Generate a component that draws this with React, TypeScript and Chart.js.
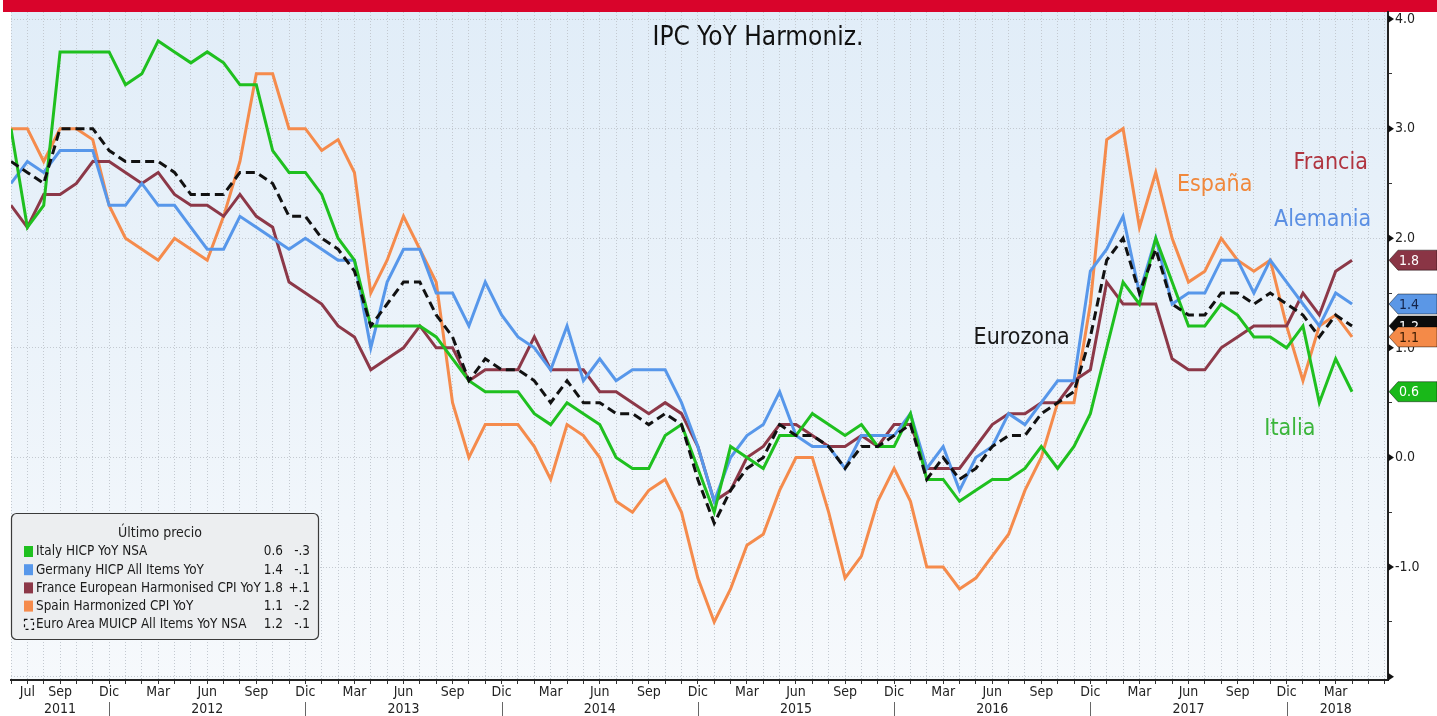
import React, { useEffect, useRef } from "react";
import { Chart, registerables } from "chart.js";

Chart.register(...registerables);

const FONT = '"DejaVu Sans Condensed", "DejaVu Sans", sans-serif';

// ---- Axis / category definitions ----
const MONTHS_ES = ["Ene", "Feb", "Mar", "Abr", "May", "Jun", "Jul", "Ago", "Sep", "Oct", "Nov", "Dic"];
const FIRST_YEAR = 2011;
const FIRST_MONTH = 5; // June 2011 = first observation
const LABELED_MONTHS = ["Mar", "Jun", "Sep", "Dic"];
const EXTRA_TICK_LABELS = ["Jul 2011"];
const YEAR_LABEL_MONTH: Record<number, string> = { 2011: "Sep", 2018: "Mar" };
const DEFAULT_YEAR_LABEL_MONTH = "Jun";
const YEAR_SEPARATOR_MONTH = "Dic";
const Y_TICKS = [-2, -1.5, -1, -0.5, 0, 0.5, 1, 1.5, 2, 2.5, 3, 3.5, 4];
const Y_LABELED = [4, 3, 2, 1, 0, -1];

// ---- Series values (Jun 2011 .. Apr 2018, monthly) ----
const italy = [
  3.0, 2.1, 2.3, 3.7, 3.7, 3.7, 3.7, 3.4, 3.5, 3.8, 3.7, 3.6, 3.7, 3.6, 3.4, 3.4, 2.8, 2.6, 2.6, 2.4, 2.0, 1.8,
  1.2, 1.2, 1.2, 1.2, 1.1, 0.9, 0.7,
  0.6, 0.6, 0.6, 0.4, 0.3, 0.5, 0.4, 0.3, 0.0, -0.1, -0.1, 0.2, 0.3,
  -0.1, -0.5, 0.1, 0.0, -0.1, 0.2, 0.2, 0.4, 0.3, 0.2, 0.3, 0.1, 0.1, 0.4,
  -0.2, -0.2, -0.4, -0.3, -0.2, -0.2, -0.1, 0.1, -0.1, 0.1, 0.4,
  1.0, 1.6, 1.4, 2.0, 1.6, 1.2, 1.2, 1.4, 1.3, 1.1, 1.1, 1.0, 1.2, 0.5, 0.9, 0.6,
];
const germany = [
  2.5, 2.7, 2.6, 2.8, 2.8, 2.8, 2.3, 2.3, 2.5, 2.3, 2.3, 2.1, 1.9, 1.9, 2.2, 2.1, 2.0, 1.9, 2.0, 1.9, 1.8, 1.8,
  1.0, 1.6, 1.9, 1.9, 1.5, 1.5, 1.2,
  1.6, 1.3, 1.1, 1.0, 0.8, 1.2, 0.7, 0.9, 0.7, 0.8, 0.8, 0.8, 0.5,
  0.1, -0.4, 0.0, 0.2, 0.3, 0.6, 0.2, 0.1, 0.1, -0.1, 0.2, 0.2, 0.2, 0.4,
  -0.1, 0.1, -0.3, 0.0, 0.1, 0.4, 0.3, 0.5, 0.7, 0.7, 1.7,
  1.9, 2.2, 1.5, 2.0, 1.4, 1.5, 1.5, 1.8, 1.8, 1.5, 1.8, 1.6, 1.4, 1.2, 1.5, 1.4,
];
const france = [
  2.3, 2.1, 2.4, 2.4, 2.5, 2.7, 2.7, 2.6, 2.5, 2.6, 2.4, 2.3, 2.3, 2.2, 2.4, 2.2, 2.1, 1.6, 1.5, 1.4, 1.2, 1.1,
  0.8, 0.9, 1.0, 1.2, 1.0, 1.0, 0.7,
  0.8, 0.8, 0.8, 1.1, 0.8, 0.8, 0.8, 0.6, 0.6, 0.5, 0.4, 0.5, 0.4,
  0.1, -0.4, -0.3, 0.0, 0.1, 0.3, 0.3, 0.2, 0.1, 0.1, 0.2, 0.1, 0.3, 0.3,
  -0.1, -0.1, -0.1, 0.1, 0.3, 0.4, 0.4, 0.5, 0.5, 0.7, 0.8,
  1.6, 1.4, 1.4, 1.4, 0.9, 0.8, 0.8, 1.0, 1.1, 1.2, 1.2, 1.2, 1.5, 1.3, 1.7, 1.8,
];
const spain = [
  3.0, 3.0, 2.7, 3.0, 3.0, 2.9, 2.3, 2.0, 1.9, 1.8, 2.0, 1.9, 1.8, 2.2, 2.7, 3.5, 3.5, 3.0, 3.0, 2.8, 2.9, 2.6,
  1.5, 1.8, 2.2, 1.9, 1.6, 0.5, 0.0,
  0.3, 0.3, 0.3, 0.1, -0.2, 0.3, 0.2, 0.0, -0.4, -0.5, -0.3, -0.2, -0.5,
  -1.1, -1.5, -1.2, -0.8, -0.7, -0.3, 0.0, 0.0, -0.5, -1.1, -0.9, -0.4, -0.1, -0.4,
  -1.0, -1.0, -1.2, -1.1, -0.9, -0.7, -0.3, 0.0, 0.5, 0.5, 1.4,
  2.9, 3.0, 2.1, 2.6, 2.0, 1.6, 1.7, 2.0, 1.8, 1.7, 1.8, 1.2, 0.7, 1.2, 1.3, 1.1,
];
const euro = [
  2.7, 2.6, 2.5, 3.0, 3.0, 3.0, 2.8, 2.7, 2.7, 2.7, 2.6, 2.4, 2.4, 2.4, 2.6, 2.6, 2.5, 2.2, 2.2, 2.0, 1.9, 1.7,
  1.2, 1.4, 1.6, 1.6, 1.3, 1.1, 0.7,
  0.9, 0.8, 0.8, 0.7, 0.5, 0.7, 0.5, 0.5, 0.4, 0.4, 0.3, 0.4, 0.3,
  -0.2, -0.6, -0.3, -0.1, 0.0, 0.3, 0.2, 0.2, 0.1, -0.1, 0.1, 0.1, 0.2, 0.3,
  -0.2, 0.0, -0.2, -0.1, 0.1, 0.2, 0.2, 0.4, 0.5, 0.6, 1.1,
  1.8, 2.0, 1.5, 1.9, 1.4, 1.3, 1.3, 1.5, 1.5, 1.4, 1.5, 1.4, 1.3, 1.1, 1.3, 1.2,
];

// ---- Series styling ----
const SERIES = [
  { key: "euro", legend: "Euro Area MUICP All Items YoY NSA", data: euro, color: "#111111", dash: [9, 5], tagBg: "#0c0c0c", tagFg: "#ffffff" },
  { key: "italy", legend: "Italy HICP YoY NSA", data: italy, color: "#1fc01f", dash: [], tagBg: "#19b819", tagFg: "#ffffff" },
  { key: "germany", legend: "Germany HICP All Items YoY", data: germany, color: "#5797ea", dash: [], tagBg: "#5b97e6", tagFg: "#14244a" },
  { key: "france", legend: "France European Harmonised CPI YoY", data: france, color: "#8c3848", dash: [], tagBg: "#8a3545", tagFg: "#ffffff" },
  { key: "spain", legend: "Spain Harmonized CPI YoY", data: spain, color: "#f58b4c", dash: [], tagBg: "#f48a48", tagFg: "#3a1a00" },
];
const LEGEND_ORDER = ["italy", "germany", "france", "spain", "euro"];
const TAG_ORDER = ["italy", "germany", "france", "euro", "spain"];
const LEGEND_TITLE = "Último precio";
const CHART_TITLE = "IPC YoY Harmoniz.";

// In-chart series names, anchored in data coordinates
const NAME_LABELS = ["Francia", "España", "Alemania", "Eurozona", "Italia"];
const NAME_X = [80.7, 73.6, 80.2, 61.8, 78.2];
const NAME_Y = [2.69, 2.49, 2.17, 1.09, 0.26];
const NAME_COLORS = ["#b0343f", "#f0883c", "#5b8fe3", "#1a1a1a", "#3bb53b"];

const periods = italy.map((_, i) => {
  const t = FIRST_MONTH + i;
  return { m: MONTHS_ES[t % 12], y: FIRST_YEAR + Math.floor(t / 12) };
});

function xTickLabel(value: number): string | string[] {
  const i = Math.round(value);
  if (i !== value || i < 1 || i >= periods.length) return "";
  const p = periods[i];
  const show = LABELED_MONTHS.includes(p.m) || EXTRA_TICK_LABELS.includes(`${p.m} ${p.y}`);
  if (!show) return "";
  const yearMonth = YEAR_LABEL_MONTH[p.y] ?? DEFAULT_YEAR_LABEL_MONTH;
  if (p.m === yearMonth) return [p.m, String(p.y)];
  return p.m;
}

function fmtChange(d: number): string {
  const r = Math.round(d * 10) / 10;
  const s = Math.abs(r).toFixed(1).replace(/^0/, "");
  return (r > 0 ? "+" : "-") + s;
}

const decorPlugin = {
  id: "decor",
  beforeDraw(chart: any) {
    const { ctx, chartArea: ca, width, height } = chart;
    ctx.save();
    ctx.fillStyle = "#ffffff";
    ctx.fillRect(0, 0, width, height);
    const g = ctx.createLinearGradient(0, ca.top, 0, ca.bottom);
    g.addColorStop(0, "#e1edf8");
    g.addColorStop(1, "#f6f9fc");
    ctx.fillStyle = g;
    ctx.fillRect(ca.left, ca.top, ca.right - ca.left, ca.bottom - ca.top);
    ctx.fillStyle = "#d9042b";
    ctx.fillRect(3, 0, width - 3, ca.top);
    ctx.restore();
  },
  afterDraw(chart: any) {
    const { ctx, chartArea: ca, width } = chart;
    const xs = chart.scales.x;
    const ys = chart.scales.y;
    ctx.save();

    // axis arrow markers at integer ticks
    ctx.fillStyle = "#111";
    for (const v of Y_TICKS) {
      if (!Number.isInteger(v)) continue;
      const y = ys.getPixelForValue(v);
      ctx.beginPath();
      ctx.moveTo(ca.right, y - 4);
      ctx.lineTo(ca.right + 6, y);
      ctx.lineTo(ca.right, y + 4);
      ctx.closePath();
      ctx.fill();
    }

    // year separators
    ctx.strokeStyle = "#666";
    ctx.lineWidth = 1;
    periods.forEach((p, i) => {
      if (p.m !== YEAR_SEPARATOR_MONTH) return;
      const x = Math.round(xs.getPixelForValue(i)) + 0.5;
      ctx.beginPath();
      ctx.moveTo(x, ca.bottom + 22);
      ctx.lineTo(x, ca.bottom + 36);
      ctx.stroke();
    });

    // title
    ctx.fillStyle = "#111";
    ctx.font = `26px ${FONT}`;
    ctx.textAlign = "center";
    ctx.textBaseline = "middle";
    ctx.fillText(CHART_TITLE, 758, 38);

    // series names
    ctx.font = `23px ${FONT}`;
    NAME_LABELS.forEach((t, k) => {
      ctx.fillStyle = NAME_COLORS[k];
      ctx.fillText(t, xs.getPixelForValue(NAME_X[k]), ys.getPixelForValue(NAME_Y[k]));
    });

    // legend box
    const bx = 11, by = 513, bw = 307, bh = 126;
    ctx.beginPath();
    ctx.roundRect(bx + 0.5, by + 0.5, bw, bh, 5);
    ctx.fillStyle = "#eceef0";
    ctx.fill();
    ctx.strokeStyle = "#3a3a3a";
    ctx.lineWidth = 1.2;
    ctx.stroke();
    ctx.fillStyle = "#222";
    ctx.font = `14px ${FONT}`;
    ctx.textAlign = "center";
    ctx.fillText(LEGEND_TITLE, 160, 533);
    ctx.font = `13.4px ${FONT}`;
    LEGEND_ORDER.forEach((key, r) => {
      const s = SERIES.find((q) => q.key === key)!;
      const y = 552 + r * 18.2;
      if (s.dash.length) {
        ctx.save();
        ctx.strokeStyle = "#111";
        ctx.lineWidth = 1.2;
        ctx.setLineDash([3, 3]);
        ctx.strokeRect(24.5, y - 5.5, 9, 10);
        ctx.restore();
      } else {
        ctx.fillStyle = s.color;
        ctx.fillRect(24, y - 6, 9, 11);
      }
      ctx.fillStyle = "#1a1a1a";
      ctx.textAlign = "left";
      ctx.fillText(s.legend, 36, y);
      const last = s.data[s.data.length - 1];
      const prev = s.data[s.data.length - 2];
      ctx.textAlign = "right";
      ctx.fillText(last.toFixed(1), 283, y);
      ctx.fillText(fmtChange(last - prev), 310, y);
    });

    // value tags on the right axis
    ctx.font = `14px ${FONT}`;
    ctx.textBaseline = "middle";
    TAG_ORDER.forEach((key) => {
      const s = SERIES.find((q) => q.key === key)!;
      const v = s.data[s.data.length - 1];
      const y = ys.getPixelForValue(v);
      const x0 = ca.right + 1;
      ctx.beginPath();
      ctx.moveTo(x0, y);
      ctx.lineTo(x0 + 9, y - 10);
      ctx.lineTo(width, y - 10);
      ctx.lineTo(width, y + 10);
      ctx.lineTo(x0 + 9, y + 10);
      ctx.closePath();
      ctx.fillStyle = s.tagBg;
      ctx.fill();
      ctx.strokeStyle = "rgba(0,0,0,0.45)";
      ctx.lineWidth = 1;
      ctx.stroke();
      ctx.fillStyle = s.tagFg;
      ctx.textAlign = "left";
      ctx.fillText(v.toFixed(1), x0 + 10, y + 1);
    });

    ctx.restore();
  },
};

export default function App() {
  const ref = useRef<HTMLCanvasElement>(null);
  useEffect(() => {
    const canvas = ref.current!;
    const chart = new Chart(canvas, {
      type: "line",
      data: {
        datasets: SERIES.map((s) => ({
          label: s.legend,
          data: s.data.map((v, i) => ({ x: i, y: v })),
          borderColor: s.color,
          backgroundColor: s.color,
          borderWidth: 3,
          borderDash: s.dash,
          pointRadius: 0,
          tension: 0,
          fill: false,
          borderJoinStyle: "miter",
        })),
      },
      options: {
        animation: false,
        responsive: false,
        maintainAspectRatio: false,
        layout: { padding: { top: 12, left: 11, right: 0, bottom: 0 } },
        plugins: { legend: { display: false }, tooltip: { enabled: false }, title: { display: false } },
        scales: {
          x: {
            type: "linear",
            min: 0,
            max: 84.2,
            afterBuildTicks: (s: any) => {
              s.ticks = Array.from({ length: 85 }, (_, i) => ({ value: i }));
            },
            afterFit: (s: any) => {
              s.height = 36;
            },
            grid: {
              color: "#c3c9d0",
              lineWidth: 1,
              drawTicks: true,
              tickLength: 4,
              tickColor: "#333",
              tickWidth: 1,
            },
            border: { display: true, color: "#222", width: 2, dash: [1, 2] },
            ticks: {
              autoSkip: false,
              maxRotation: 0,
              minRotation: 0,
              padding: 0,
              color: "#222",
              font: { family: FONT, size: 14, lineHeight: 1.21 },
              callback: (v: any) => xTickLabel(Number(v)),
            },
          },
          y: {
            type: "linear",
            position: "right",
            min: -2.03,
            max: 4.064,
            afterBuildTicks: (s: any) => {
              s.ticks = Y_TICKS.map((v) => ({ value: v }));
            },
            afterFit: (s: any) => {
              s.width = 49;
            },
            grid: {
              color: (c: any) => (c.tick && Number.isInteger(c.tick.value) ? "#c3c9d0" : "rgba(0,0,0,0)"),
              lineWidth: 1,
              drawTicks: true,
              tickLength: 4,
              tickColor: "#333",
              tickWidth: 1,
            },
            border: { display: true, color: "#222", width: 2, dash: [1, 2] },
            ticks: {
              padding: 3,
              color: "#222",
              font: { family: FONT, size: 14 },
              callback: (v: any) => (Y_LABELED.includes(Number(v)) ? Number(v).toFixed(1) : ""),
            },
          },
        },
      },
      plugins: [decorPlugin],
    } as any);
    return () => chart.destroy();
  }, []);
  return (
    <div style={{ position: "absolute", left: 0, top: 0, width: 1437, height: 716, background: "#fff" }}>
      <canvas ref={ref} width={1437} height={716} style={{ display: "block", width: 1437, height: 716 }} />
    </div>
  );
}
